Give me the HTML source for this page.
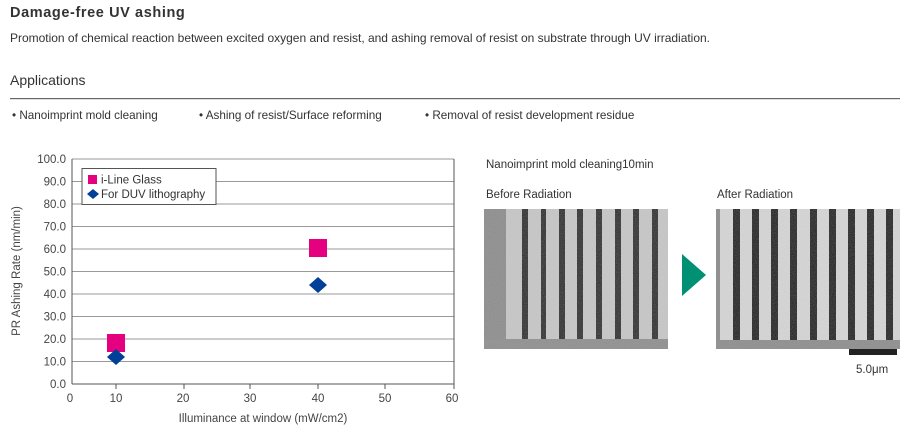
<!DOCTYPE html>
<html><head><meta charset="utf-8"><style>
body{margin:0;width:900px;height:425px;background:#fff;overflow:hidden}
svg{display:block;font-family:"Liberation Sans",sans-serif}
</style></head><body>
<svg width="900" height="425" viewBox="0 0 900 425">
<defs>
<filter id="n" x="0" y="0" width="100%" height="100%"><feTurbulence type="fractalNoise" baseFrequency="0.9" numOctaves="2" seed="3"/><feColorMatrix values="0 0 0 0 0.5 0 0 0 0 0.5 0 0 0 0 0.5 0 0 0 0.35 0"/></filter>
</defs>
<text x="10" y="17" font-size="14.5" font-weight="bold" fill="#333" letter-spacing="0.6">Damage-free UV ashing</text>
<text x="10" y="42" font-size="12" fill="#333" textLength="700">Promotion of chemical reaction between excited oxygen and resist, and ashing removal of resist on substrate through UV irradiation.</text>
<text x="10" y="85" font-size="14" fill="#333">Applications</text>
<rect x="10" y="98" width="890" height="1.2" fill="#666"/>
<text x="12" y="119" font-size="11.7" fill="#333">• Nanoimprint mold cleaning</text>
<text x="199" y="119" font-size="11.7" fill="#333">• Ashing of resist/Surface reforming</text>
<text x="425" y="119" font-size="11.7" fill="#333">• Removal of resist development residue</text>

<g stroke="#999" stroke-width="1">
<line x1="72" y1="159" x2="454" y2="159"/>
<line x1="72" y1="181.5" x2="454" y2="181.5"/>
<line x1="72" y1="204" x2="454" y2="204"/>
<line x1="72" y1="226.5" x2="454" y2="226.5"/>
<line x1="72" y1="249" x2="454" y2="249"/>
<line x1="72" y1="271.5" x2="454" y2="271.5"/>
<line x1="72" y1="294" x2="454" y2="294"/>
<line x1="72" y1="316.5" x2="454" y2="316.5"/>
<line x1="72" y1="339" x2="454" y2="339"/>
<line x1="72" y1="361.5" x2="454" y2="361.5"/>
</g>
<g stroke="#555" stroke-width="1" fill="none">
<line x1="72" y1="159" x2="72" y2="384"/>
<line x1="454" y1="159" x2="454" y2="384"/>
<line x1="72" y1="384" x2="454" y2="384"/>
<line x1="116" y1="384" x2="116" y2="389"/>
<line x1="184" y1="384" x2="184" y2="389"/>
<line x1="250" y1="384" x2="250" y2="389"/>
<line x1="318" y1="384" x2="318" y2="389"/>
<line x1="385" y1="384" x2="385" y2="389"/>
<line x1="454" y1="384" x2="454" y2="389"/>
</g>
<g font-size="11.5" fill="#444" text-anchor="end">
<text x="66" y="163">100.0</text><text x="66" y="185.5">90.0</text><text x="66" y="208">80.0</text><text x="66" y="230.5">70.0</text><text x="66" y="253">60.0</text><text x="66" y="275.5">50.0</text><text x="66" y="298">40.0</text><text x="66" y="320.5">30.0</text><text x="66" y="343">20.0</text><text x="66" y="365.5">10.0</text><text x="66" y="388">0.0</text>
</g>
<g font-size="11.5" fill="#444" text-anchor="middle">
<text x="70" y="402">0</text><text x="116" y="402">10</text><text x="183" y="402">20</text><text x="250" y="402">30</text><text x="318" y="402">40</text><text x="385" y="402">50</text><text x="452" y="402">60</text>
<text x="263" y="422">Illuminance at window (mW/cm2)</text>
<text transform="translate(20,271) rotate(-90)">PR Ashing Rate (nm/min)</text>
</g>
<rect x="82" y="168.5" width="134" height="36" fill="#fff" stroke="#555"/>
<rect x="88" y="175" width="9" height="9" fill="#e4007f"/>
<text x="101" y="183.5" font-size="11.5" fill="#333">i-Line Glass</text>
<polygon points="93,189 99,194 93,199 87,194" fill="#004098"/>
<text x="101" y="198" font-size="11.5" fill="#333">For DUV lithography</text>
<rect x="107" y="334" width="18" height="18" fill="#e4007f"/>
<rect x="309" y="239" width="18" height="18" fill="#e4007f"/>
<polygon points="116,349 125,357 116,365 107,357" fill="#004098"/>
<polygon points="318,277 327,285 318,293 309,285" fill="#004098"/>

<text x="486" y="168" font-size="11.5" fill="#333">Nanoimprint mold cleaning10min</text>
<text x="486" y="198" font-size="11.5" fill="#333">Before Radiation</text>
<text x="717" y="198" font-size="11.5" fill="#333">After Radiation</text>

<rect x="484" y="209" width="184" height="140" fill="#c8c8c8"/>
<rect x="484" y="209" width="22" height="140" fill="#8a8a8a"/>
<g fill="#2a2a2a">
<rect x="522" y="209" width="6" height="130"/><rect x="541" y="209" width="5" height="130"/><rect x="559" y="209" width="6" height="130"/><rect x="577" y="209" width="6" height="130"/><rect x="596" y="209" width="6" height="130"/><rect x="615" y="209" width="6" height="130"/><rect x="633" y="209" width="6" height="130"/><rect x="652" y="209" width="6" height="130"/>
</g>
<rect x="484" y="339" width="184" height="10" fill="#8c8c8c"/>
<rect x="484" y="209" width="184" height="140" filter="url(#n)"/>

<rect x="716" y="209" width="184" height="140" fill="#d8d8d8"/>
<g fill="#1e1e1e">
<rect x="733" y="209" width="7" height="131"/><rect x="752" y="209" width="7" height="131"/><rect x="771" y="209" width="7" height="131"/><rect x="790" y="209" width="7" height="131"/><rect x="810" y="209" width="7" height="131"/><rect x="829" y="209" width="7" height="131"/><rect x="848" y="209" width="7" height="131"/><rect x="867" y="209" width="7" height="131"/><rect x="886" y="209" width="7" height="131"/>
</g>
<rect x="716" y="209" width="4" height="140" fill="#888"/>
<rect x="716" y="340" width="184" height="9" fill="#8a8a8a"/>
<rect x="716" y="209" width="184" height="140" filter="url(#n)"/>

<polygon points="682,254 706,275 682,296" fill="#009073"/>
<rect x="849" y="349" width="48" height="6" fill="#222"/>
<text x="856" y="373" font-size="11.5" fill="#333">5.0μm</text>
</svg>
</body></html>
